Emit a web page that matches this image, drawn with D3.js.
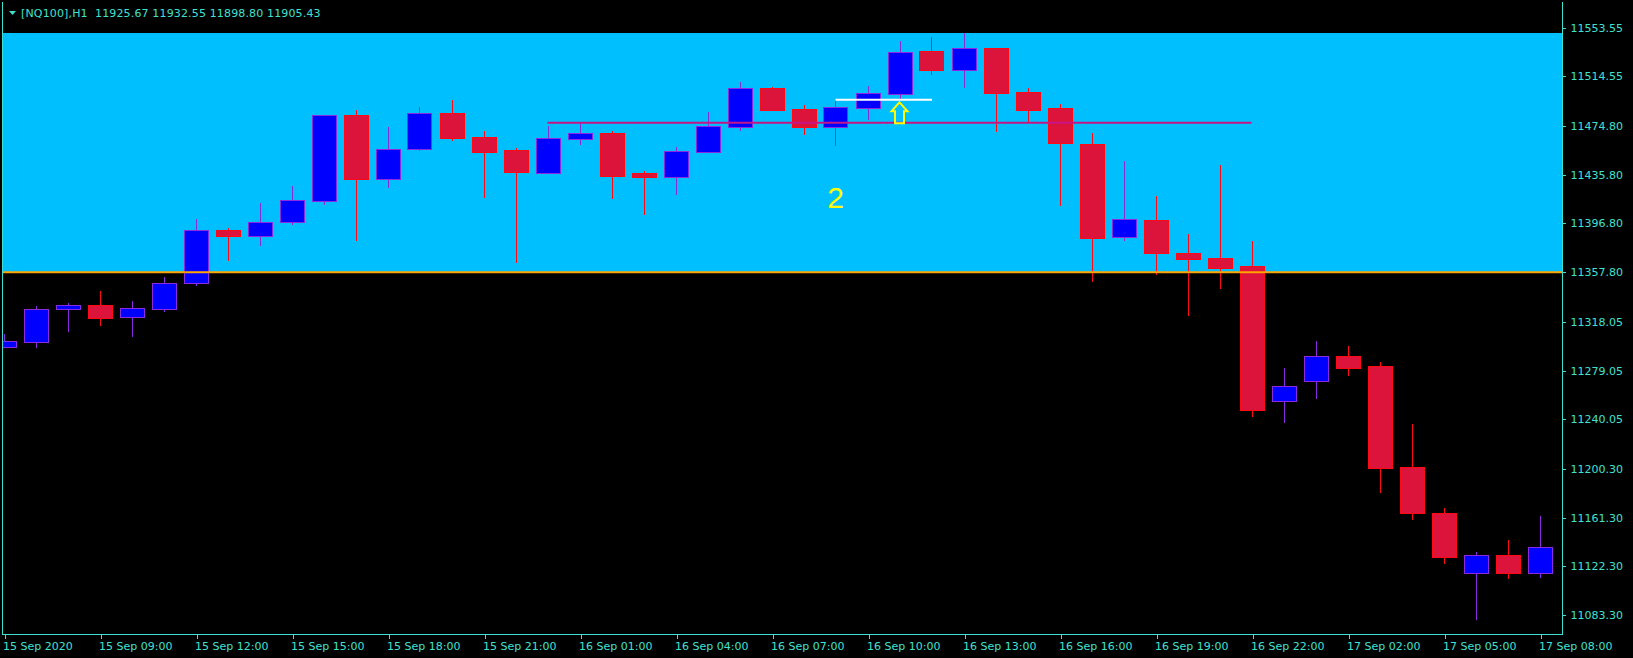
<!DOCTYPE html>
<html><head><meta charset="utf-8">
<script src="https://cdn.jsdelivr.net/npm/d3@7"></script>
<style>
html,body{margin:0;padding:0;background:#000;}
svg{display:block;}
text{font-family:"DejaVu Sans",sans-serif;}
</style></head>
<body>
<svg id="chart" width="1633" height="658"></svg>
<script>
// ---- data ----
const symbolTitle = "[NQ100],H1  11925.67 11932.55 11898.80 11905.43";
const opens  = [11298.13,11302.13,11328.56,11331.28,11321.67,11328.08,11348.89,11391.57,11387.01,11397.73,
                11414.55,11483.65,11432.65,11456.67,11485.01,11465.79,11455.38,11437.45,11464.67,11468.99,
                11436.97,11434.25,11454.26,11474.28,11505.27,11488.22,11474.44,11489.50,11500.70,11534.90,
                11519.92,11537.06,11501.83,11489.01,11460.43,11386.20,11399.58,11372.91,11369.15,11362.75,
                11254.41,11270.42,11290.44,11282.43,11201.56,11164.73,11116.68,11131.10,11116.68];
const highs  = [11308.30,11330.72,11333.12,11342.73,11334.72,11353.94,11400.38,11393.17,11413.19,11426.80,
                11483.90,11487.66,11474.04,11490.06,11495.66,11470.84,11456.99,11474.85,11477.24,11470.84,
                11438.81,11458.03,11486.05,11510.07,11506.07,11491.66,11495.66,11506.87,11542.90,11546.10,
                11549.31,11537.50,11505.03,11492.22,11469.24,11446.82,11418.79,11388.37,11443.61,11382.76,
                11281.07,11302.69,11298.69,11285.87,11236.23,11168.97,11133.74,11143.35,11162.57];
const lows   = [11297.09,11297.33,11310.14,11314.94,11306.13,11326.16,11346.97,11366.75,11379.00,11395.81,
                11411.83,11383.00,11425.44,11455.06,11462.83,11417.43,11365.39,11436.41,11459.87,11416.63,
                11403.58,11419.59,11453.50,11470.84,11486.85,11467.63,11459.07,11479.65,11496.70,11515.68,
                11505.51,11470.04,11477.81,11411.03,11350.17,11383.00,11355.54,11322.95,11344.57,11242.08,
                11237.27,11256.49,11274.90,11181.22,11159.61,11124.37,11079.53,11112.36,11113.16];
const closes = [11302.69,11328.32,11331.28,11321.35,11328.88,11348.89,11391.33,11387.01,11397.73,11415.35,
                11483.41,11432.65,11456.18,11485.01,11465.47,11454.26,11438.25,11464.98,11468.99,11435.05,
                11434.25,11454.58,11474.60,11505.03,11487.89,11474.28,11489.82,11501.02,11533.85,11519.92,
                11537.06,11501.51,11487.89,11460.83,11385.40,11400.14,11373.40,11368.59,11361.38,11247.68,
                11266.42,11290.44,11281.31,11201.24,11165.21,11129.98,11131.10,11116.68,11137.51];
const timeLabels = ["15 Sep 2020","15 Sep 09:00","15 Sep 12:00","15 Sep 15:00","15 Sep 18:00","15 Sep 21:00",
                    "16 Sep 01:00","16 Sep 04:00","16 Sep 07:00","16 Sep 10:00","16 Sep 13:00","16 Sep 16:00",
                    "16 Sep 19:00","16 Sep 22:00","17 Sep 02:00","17 Sep 05:00","17 Sep 08:00"];
const timeLabelBars = [0,3,6,9,12,15,18,21,24,27,30,33,36,39,42,45,48];
const priceTicks = [11553.55,11514.55,11474.80,11435.80,11396.80,11357.80,11318.05,11279.05,11240.05,11200.30,11161.30,11122.30,11083.30];
// objects
const zonePrices = [11549.31, 11357.80];          // rectangle top / bottom
const supportLevel = [11357.80];                   // orange horizontal line
const trendLevel = [{from:17, to:39, price:11477.50}];  // magenta segment
const whiteLevel = [{from:26, to:29, price:11495.90}];    // white segment
const arrowMark = [{bar:28, price:11494.60}];      // yellow up arrow
const textMark = [{bar:26, price:11409.20, text:"2"}];

// ---- layout ----
const frame = {left:2, right:1562, top:2, bottom:634};
const svg = d3.select("#chart");
const fg = "#40E0D0";

const x = d3.scaleLinear().domain([0, 48]).range([3.5, 1539.5]);
const y = d3.scaleLinear().domain([11083.30, 11553.55]).range([615, 27.7]);
const halfBody = 12;

svg.append("rect").attr("width",1633).attr("height",658).attr("fill","#000");

svg.append("defs").append("clipPath").attr("id","plotclip")
  .append("rect").attr("x",frame.left+1).attr("y",frame.top).attr("width",frame.right-frame.left-1).attr("height",frame.bottom-frame.top);

const plot = svg.append("g").attr("clip-path","url(#plotclip)");

// zone rectangle
plot.append("rect")
  .attr("x", frame.left).attr("width", frame.right-frame.left)
  .attr("y", y(zonePrices[0])).attr("height", y(zonePrices[1]) - y(zonePrices[0]))
  .attr("fill", "#00BFFF");

// candles
const bars = d3.range(opens.length).map(i => ({i, o:opens[i], h:highs[i], l:lows[i], c:closes[i]}));
const cg = plot.append("g").attr("shape-rendering","crispEdges");
bars.forEach(b => {
  const bull = b.c >= b.o;
  const stroke = bull ? "#8A2BE2" : "#FF0A14";
  const fill = bull ? "#0000FF" : "#DC143C";
  const cx = Math.round(x(b.i)) + 0.5;
  cg.append("line").attr("x1",cx).attr("x2",cx)
    .attr("y1",Math.round(y(b.h))).attr("y2",Math.round(y(b.l)))
    .attr("stroke",stroke).attr("stroke-width",1);
  const top = Math.round(y(Math.max(b.o,b.c)));
  const bot = Math.round(y(Math.min(b.o,b.c)));
  cg.append("rect").attr("x",cx-halfBody).attr("width",halfBody*2)
    .attr("y",top+0.5).attr("height",Math.max(bot-top,1))
    .attr("fill",fill).attr("stroke",stroke).attr("stroke-width",1);
});

// horizontal lines
plot.selectAll(".sup").data(supportLevel).enter().append("line")
  .attr("x1",frame.left).attr("x2",frame.right)
  .attr("y1",d=>y(d)).attr("y2",d=>y(d))
  .attr("stroke","#FFA500").attr("stroke-width",2);
plot.selectAll(".trend").data(trendLevel).enter().append("line")
  .attr("x1",d=>x(d.from)).attr("x2",d=>x(d.to))
  .attr("y1",d=>y(d.price)).attr("y2",d=>y(d.price))
  .attr("stroke","#C71585").attr("stroke-width",2);
plot.selectAll(".white").data(whiteLevel).enter().append("line")
  .attr("x1",d=>x(d.from)).attr("x2",d=>x(d.to)+0.5)
  .attr("y1",d=>y(d.price)).attr("y2",d=>y(d.price))
  .attr("stroke","#FFFFFF").attr("stroke-width",2);

// arrow
plot.selectAll(".arrow").data(arrowMark).enter().append("path")
  .attr("transform",d=>`translate(${x(d.bar)},${y(d.price)})`)
  .attr("d","M0,1 L8,10 L4.5,10 L4.5,22 L-4.5,22 L-4.5,10 L-8,10 Z")
  .attr("fill","none").attr("stroke","#FFFF00").attr("stroke-width",2).attr("stroke-linejoin","miter");

// text
plot.selectAll(".lbl").data(textMark).enter().append("text")
  .attr("x",d=>x(d.bar)).attr("y",d=>y(d.price))
  .attr("text-anchor","middle").attr("fill","#FFFF00")
  .style("font-family","'Liberation Sans',Arial,sans-serif").style("font-size","30px")
  .text(d=>d.text);

// frame
svg.append("path")
  .attr("d",`M${frame.left+0.5},${frame.top} V${frame.bottom+0.5} H${frame.right+0.5} V${frame.top}`)
  .attr("fill","none").attr("stroke",fg).attr("stroke-width",1).attr("shape-rendering","crispEdges");

// x axis
const xAxis = d3.axisBottom(x).tickValues(timeLabelBars).tickSize(4)
  .tickFormat((d,i)=>timeLabels[i]);
const xg = svg.append("g").attr("transform",`translate(0,${frame.bottom+0.5})`).call(xAxis);
xg.select(".domain").remove();
xg.selectAll(".tick line").attr("stroke",fg).attr("shape-rendering","crispEdges")
  .attr("transform",d=>`translate(${Math.round(x(d))+0.5 - x(d)},0)`);
xg.selectAll(".tick text").attr("fill",fg).attr("text-anchor","start")
  .attr("x",-1).attr("y",15).attr("dy",0)
  .style("font-family","'DejaVu Sans',sans-serif").style("font-size","11px");

// y axis
const yAxis = d3.axisRight(y).tickValues(priceTicks).tickSize(3).tickFormat(d3.format(".2f"));
const yg = svg.append("g").attr("transform",`translate(${frame.right+0.5},0)`).call(yAxis);
yg.select(".domain").remove();
yg.selectAll(".tick line").attr("stroke",fg).attr("shape-rendering","crispEdges");
yg.selectAll(".tick text").attr("fill",fg).attr("x",8).attr("dy","0.32em")
  .style("font-family","'DejaVu Sans',sans-serif").style("font-size","11px");

// header
svg.append("path").attr("d","M9,11 L16,11 L12.5,15 Z").attr("fill",fg);
svg.append("text").attr("x",21).attr("y",16.5).attr("fill",fg)
  .style("font-size","11px").style("letter-spacing","0.15px").style("white-space","pre").text(symbolTitle);
</script>
</body></html>
